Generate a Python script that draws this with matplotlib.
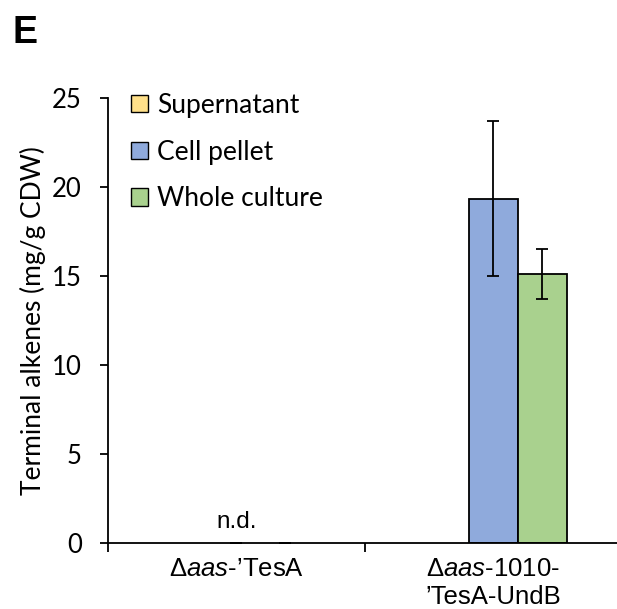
import numpy as np
import matplotlib.pyplot as plt

plt.rcParams['mathtext.fontset'] = 'custom'
plt.rcParams['mathtext.rm'] = 'Liberation Sans'
plt.rcParams['mathtext.it'] = 'Liberation Sans:italic'

categories = ['Δ$\\mathit{aas}$-’TesA', 'Δ$\\mathit{aas}$-1010-\n’TesA-UndB']
series = ['Supernatant', 'Cell pellet', 'Whole culture']
supernatant = [0, 0]
cell_pellet = [0, 19.34]
whole_culture = [0, 15.14]
cell_pellet_err = [0, 4.35]
whole_culture_err = [0, 1.4]
colors = ['#FFE08A', '#8FAADC', '#A9D18E']

fig = plt.figure(figsize=(6.17, 6.09), dpi=100)
ax = fig.add_axes([0.175, 0.108, 0.833, 0.731])

x = np.arange(len(categories))
w = 0.19
values = [supernatant, cell_pellet, whole_culture]
errs = [None, cell_pellet_err, whole_culture_err]
for i, (vals, name, c) in enumerate(zip(values, series, colors)):
    xs = x + (i - 1) * w
    show = [v > 0 for v in vals]
    ax.bar(xs[show], np.array(vals)[show], w, color=c, edgecolor='black',
           linewidth=1.3, zorder=2)
    # legend proxy
    ax.bar([np.nan], [np.nan], color=c, edgecolor='black', linewidth=1.0, label=name)
    if errs[i] is not None:
        ax.errorbar(xs, vals, yerr=errs[i], fmt='none', ecolor='black',
                    elinewidth=1.3, capsize=4.3, capthick=1.3, zorder=3)

ax.text(0, 0.55, 'n.d.', ha='center', va='bottom', fontsize=17.5,
        family='Liberation Sans')

ax.set_xlim(-0.5, 1.5)
ax.set_ylim(0, 25)
ax.set_yticks([0, 5, 10, 15, 20, 25])
ax.set_xticks([-0.5, 0.5, 1.5])
ax.set_xticklabels([])
ax.set_xticks(x, minor=True)
ax.set_xticklabels(categories, minor=True, fontsize=18.5, family='Liberation Sans')
ax.tick_params(axis='x', which='minor', length=0, pad=10)
ax.tick_params(axis='x', which='major', length=6.5, width=1.3, direction='out')
ax.tick_params(axis='y', length=5.8, width=1.3, direction='out', labelsize=18.5, pad=13)
for lab in ax.get_yticklabels():
    lab.set_family('Lato')

for s in ['top', 'right']:
    ax.spines[s].set_visible(False)
for s in ['left', 'bottom']:
    ax.spines[s].set_linewidth(1.3)

ax.set_ylabel('Terminal alkenes (mg/g CDW)', fontsize=19, family='Lato', labelpad=4)

ax.legend(loc='upper left', bbox_to_anchor=(0.025, 1.035), frameon=False,
          prop={'family': 'Lato', 'size': 19}, handlelength=0.62, handleheight=0.62,
          handletextpad=0.35, labelspacing=0.82, borderaxespad=0)

fig.text(0.02, 0.975, 'E', fontsize=27, fontweight='bold', family='Liberation Sans',
         va='top')

fig.savefig('out.png', dpi=100)
